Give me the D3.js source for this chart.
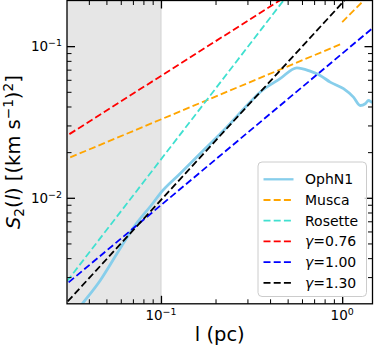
<!DOCTYPE html>
<html>
<head>
<meta charset="utf-8">
<script src="https://cdn.jsdelivr.net/npm/d3@7"></script>
<style>
  body { margin: 0; background: #fff; }
  svg { display: block; font-family: "DejaVu Sans", sans-serif; }
</style>
</head>
<body>
<svg width="374" height="348"></svg>
<script>
// OphN1 structure function
var ophL = [0.0348, 0.0366, 0.0462, 0.0571, 0.0707, 0.0911, 0.0987, 0.1273, 0.1713, 0.2307,
            0.310, 0.3524, 0.4545, 0.562, 0.6655, 0.7559, 0.8585, 1.017, 1.154, 1.257,
            1.340, 1.398, 1.459, 1.5];
var ophS = [0.00183, 0.00198, 0.00285, 0.00427, 0.0064, 0.00935, 0.01063, 0.0144, 0.0205, 0.0292,
            0.0427, 0.0497, 0.061, 0.072, 0.0684, 0.0641, 0.0579, 0.0524, 0.0461, 0.0406,
            0.0417, 0.0438, 0.0427, 0.0425];

// power-law reference lines, endpoints (l, S2)
var muscaL = [0.028, 1.0], muscaS = [0.0174, 0.104];
var muscaL2 = [1.0, 1.5], muscaS2 = [0.144, 0.234];
var rosetteL = [0.028, 0.5], rosetteS = [0.00249, 0.217];
var g076L = [0.028, 0.5], g076S = [0.0242, 0.216];
var g100L = [0.028, 1.5], g100S = [0.002506, 0.134];
var g130L = [0.028, 1.1], g130S = [0.00185, 0.218];

var legendNames = ["OphN1", "Musca", "Rosette", "0.76", "1.00", "1.30"];
var legendColors = ["#87ceeb", "#ffa500", "#40e0d0", "#ff0000", "#0000ff", "#000000"];

var xMajor = [0.1, 1], xMajorExp = ["−1", "0"];
var yMajor = [0.01, 0.1], yMajorExp = ["−2", "−1"];
var xMinor = [0.04, 0.05, 0.06, 0.07, 0.08, 0.09, 0.2, 0.3, 0.4, 0.5, 0.6, 0.7, 0.8, 0.9];
var yMinor = [0.003, 0.004, 0.005, 0.006, 0.007, 0.008, 0.009,
              0.02, 0.03, 0.04, 0.05, 0.06, 0.07, 0.08, 0.09];
var shadeMax = 0.1;

var svg = d3.select("svg");
var L = 67, R = 372.5, T = 0.5, B = 303.8;

var x = d3.scaleLog().domain([0.0303, 1.47]).range([L, R]);
var y = d3.scaleLog().domain([0.002, 0.2]).range([B, T]);

svg.append("defs").append("clipPath").attr("id", "clip")
  .append("rect").attr("x", L).attr("y", T).attr("width", R - L).attr("height", B - T);

var plot = svg.append("g").attr("clip-path", "url(#clip)");

// shaded region
plot.append("rect")
  .attr("x", L).attr("y", T)
  .attr("width", x(shadeMax) - L).attr("height", B - T)
  .attr("fill", "#e6e6e6");
plot.append("line")
  .attr("x1", x(shadeMax)).attr("x2", x(shadeMax))
  .attr("y1", T).attr("y2", B)
  .attr("stroke", "#d6d6d6").attr("stroke-width", 1.2);

var line = d3.line()
  .x(function(d) { return x(d[0]); })
  .y(function(d) { return y(d[1]); });

plot.append("path")
  .datum(d3.zip(ophL, ophS))
  .attr("d", line.curve(d3.curveMonotoneX))
  .attr("fill", "none")
  .attr("stroke", legendColors[0])
  .attr("stroke-width", 2.8)
  .attr("stroke-linejoin", "round");

line.curve(d3.curveLinear);
var fits = [
  [muscaL, muscaS, 1], [muscaL2, muscaS2, 1], [rosetteL, rosetteS, 2],
  [g076L, g076S, 3], [g100L, g100S, 4], [g130L, g130S, 5]
];
fits.forEach(function(f) {
  plot.append("path")
    .datum(d3.zip(f[0], f[1]))
    .attr("d", line)
    .attr("fill", "none")
    .attr("stroke", legendColors[f[2]])
    .attr("stroke-width", 1.8)
    .attr("stroke-dasharray", "7,3.2");
});

// ticks, all pointing inward
function ticks(axis, scale, vals, size, width, tr) {
  svg.append("g")
    .attr("transform", tr)
    .call(axis(scale).tickValues(vals).tickSize(-size).tickFormat(""))
    .call(function(g) {
      g.select(".domain").remove();
      g.selectAll("line").attr("stroke", "#000").attr("stroke-width", width);
    });
}
ticks(d3.axisBottom, x, xMinor, 4.5, 1, "translate(0," + B + ")");
ticks(d3.axisBottom, x, xMajor, 8, 1.3, "translate(0," + B + ")");
ticks(d3.axisTop, x, xMinor, 4.5, 1, "translate(0," + T + ")");
ticks(d3.axisTop, x, xMajor, 8, 1.3, "translate(0," + T + ")");
ticks(d3.axisLeft, y, yMinor, 4.5, 1, "translate(" + L + ",0)");
ticks(d3.axisLeft, y, yMajor, 8, 1.3, "translate(" + L + ",0)");
ticks(d3.axisRight, y, yMinor, 4.5, 1, "translate(" + R + ",0)");
ticks(d3.axisRight, y, yMajor, 8, 1.3, "translate(" + R + ",0)");

svg.append("rect")
  .attr("x", L).attr("y", T).attr("width", R - L).attr("height", B - T)
  .attr("fill", "none").attr("stroke", "#000").attr("stroke-width", 1.3);

// tick labels
function powLabel(sel, exp) {
  sel.append("tspan").text("10");
  sel.append("tspan").attr("font-size", "0.7em").attr("dy", "-0.5em").text(exp);
}
xMajor.forEach(function(v, i) {
  svg.append("text")
    .attr("x", x(v)).attr("y", 320)
    .attr("font-size", 13.5).attr("text-anchor", "middle")
    .call(powLabel, xMajorExp[i]);
});
yMajor.forEach(function(v, i) {
  svg.append("text")
    .attr("x", 62).attr("y", y(v) + 5)
    .attr("font-size", 13.5).attr("text-anchor", "end")
    .call(powLabel, yMajorExp[i]);
});

// axis labels
svg.append("text")
  .attr("x", (L + R) / 2).attr("y", 341)
  .attr("font-size", 19.5).attr("text-anchor", "middle")
  .text("l (pc)");

var yl = svg.append("text")
  .attr("transform", "translate(20," + (T + B) / 2 + ") rotate(-90)")
  .attr("font-size", 19.5).attr("text-anchor", "middle");
yl.append("tspan").attr("font-style", "italic").text("S");
yl.append("tspan").attr("font-size", "0.7em").attr("dy", "0.3em").text("2");
yl.append("tspan").attr("dy", "-0.21em").text("(");
yl.append("tspan").attr("font-style", "italic").text("l");
yl.append("tspan").text(") [(km s");
yl.append("tspan").attr("font-size", "0.7em").attr("dy", "-0.55em").text("−1");
yl.append("tspan").attr("dy", "0.385em").text(")");
yl.append("tspan").attr("font-size", "0.7em").attr("dy", "-0.55em").text("2");
yl.append("tspan").attr("dy", "0.385em").text("]");

// legend
var lg = svg.append("g").attr("transform", "translate(258,162)");
lg.append("rect")
  .attr("width", 108.5).attr("height", 134.5).attr("rx", 4)
  .attr("fill", "#fff").attr("fill-opacity", 0.8)
  .attr("stroke", "#cccccc").attr("stroke-width", 1);
legendNames.forEach(function(n, i) {
  var yy = 17.3 + i * 20.7;
  lg.append("line")
    .attr("x1", 5.5).attr("x2", 35.5).attr("y1", yy).attr("y2", yy)
    .attr("stroke", legendColors[i])
    .attr("stroke-width", i === 0 ? 2.3 : 1.8)
    .attr("stroke-dasharray", i === 0 ? null : "7,3.2");
  var t = lg.append("text")
    .attr("x", 47).attr("y", yy + 5)
    .attr("font-size", 14);
  if (i < 3) {
    t.text(n);
  } else {
    t.append("tspan").attr("font-style", "italic").text("γ");
    t.append("tspan").text("=" + n);
  }
});
</script>
</body>
</html>
